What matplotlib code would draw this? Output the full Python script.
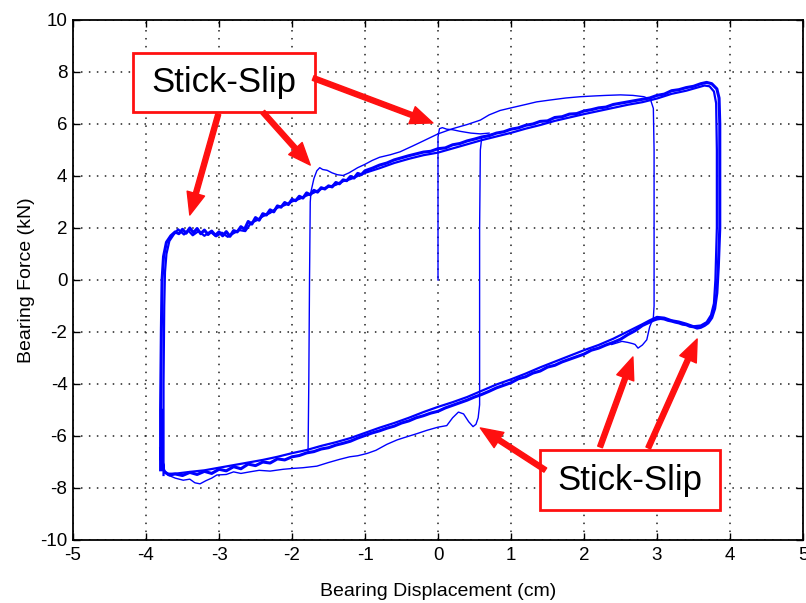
import matplotlib
matplotlib.use("Agg")
import matplotlib.pyplot as plt
import numpy as np
from matplotlib.patches import Rectangle

plt.rcParams['font.family'] = ['Liberation Sans', 'DejaVu Sans']
plt.rcParams['axes.unicode_minus'] = False

# main loop, cycle A  (displacement cm, force kN)
loop_a = [
    (-3.80, -7.30), (-3.80, -5.00), (-3.79, -2.00), (-3.78, 0.00), (-3.76, 0.90),
    (-3.72, 1.45), (-3.66, 1.70), (-3.60, 1.85), (-3.55, 1.78), (-3.50, 1.95),
    (-3.45, 1.80), (-3.40, 2.00), (-3.35, 1.82), (-3.30, 1.98), (-3.25, 1.78),
    (-3.20, 1.92), (-3.15, 1.75), (-3.10, 1.88), (-3.05, 1.72), (-3.00, 1.85),
    (-2.95, 1.70), (-2.90, 1.86), (-2.85, 1.68), (-2.80, 1.90), (-2.75, 1.85),
    (-2.70, 2.05), (-2.65, 1.95), (-2.60, 2.25), (-2.55, 2.15), (-2.50, 2.40),
    (-2.45, 2.30), (-2.40, 2.55), (-2.35, 2.50), (-2.30, 2.70), (-2.25, 2.62),
    (-2.20, 2.85), (-2.15, 2.80), (-2.10, 2.98), (-2.05, 2.90), (-2.00, 3.10),
    (-1.95, 3.05), (-1.90, 3.22), (-1.85, 3.15), (-1.80, 3.35), (-1.75, 3.28),
    (-1.70, 3.45), (-1.65, 3.38), (-1.60, 3.55), (-1.55, 3.50), (-1.50, 3.62),
    (-1.45, 3.58), (-1.40, 3.75), (-1.35, 3.70), (-1.30, 3.85), (-1.25, 3.82),
    (-1.20, 3.98), (-1.15, 3.92), (-1.10, 4.10), (-1.05, 4.05), (-1.00, 4.20),
    (-0.90, 4.30), (-0.80, 4.42), (-0.70, 4.50), (-0.60, 4.62), (-0.50, 4.70),
    (-0.40, 4.78), (-0.30, 4.85), (-0.20, 4.92), (-0.10, 4.95), (0.00, 5.05),
    (0.10, 5.08), (0.20, 5.20), (0.30, 5.25), (0.40, 5.35), (0.50, 5.42),
    (0.60, 5.50), (0.70, 5.55), (0.80, 5.65), (0.90, 5.70), (1.00, 5.80),
    (1.10, 5.85), (1.20, 5.95), (1.30, 6.00), (1.40, 6.10), (1.50, 6.12),
    (1.60, 6.25), (1.70, 6.28), (1.80, 6.38), (1.90, 6.40), (2.00, 6.50),
    (2.10, 6.55), (2.20, 6.62), (2.30, 6.65), (2.40, 6.75), (2.50, 6.80),
    (2.60, 6.85), (2.70, 6.90), (2.80, 6.95), (2.90, 7.00), (3.00, 7.10),
    (3.10, 7.15), (3.20, 7.28), (3.30, 7.32), (3.40, 7.40), (3.50, 7.45),
    (3.60, 7.55), (3.68, 7.60), (3.75, 7.55), (3.82, 7.35), (3.85, 7.00),
    (3.86, 6.00), (3.86, 4.00), (3.86, 2.00), (3.84, 0.50), (3.82, -0.50),
    (3.79, -1.10), (3.75, -1.45), (3.70, -1.65), (3.65, -1.75), (3.60, -1.82),
    (3.55, -1.85), (3.50, -1.80), (3.45, -1.78), (3.40, -1.72), (3.35, -1.70),
    (3.30, -1.65), (3.25, -1.62), (3.20, -1.58), (3.15, -1.55), (3.10, -1.50),
    (3.05, -1.48), (3.00, -1.50), (2.95, -1.55), (2.90, -1.62), (2.80, -1.75),
    (2.70, -1.95), (2.60, -2.10), (2.50, -2.28), (2.40, -2.40), (2.30, -2.50),
    (2.20, -2.62), (2.10, -2.70), (2.00, -2.85), (1.90, -2.95), (1.80, -3.05),
    (1.70, -3.15), (1.60, -3.28), (1.50, -3.35), (1.40, -3.50), (1.30, -3.58),
    (1.20, -3.72), (1.10, -3.80), (1.00, -3.95), (0.90, -4.05), (0.80, -4.15),
    (0.70, -4.28), (0.60, -4.40), (0.50, -4.50), (0.40, -4.62), (0.30, -4.72),
    (0.20, -4.82), (0.10, -4.92), (0.00, -5.05), (-0.10, -5.12), (-0.20, -5.22),
    (-0.30, -5.30), (-0.40, -5.42), (-0.50, -5.50), (-0.60, -5.62), (-0.70, -5.70),
    (-0.80, -5.80), (-0.90, -5.88), (-1.00, -5.98), (-1.10, -6.08), (-1.20, -6.20),
    (-1.30, -6.28), (-1.40, -6.35), (-1.50, -6.45), (-1.60, -6.50), (-1.70, -6.60),
    (-1.80, -6.65), (-1.90, -6.75), (-2.00, -6.80), (-2.10, -6.92), (-2.20, -6.88),
    (-2.30, -7.04), (-2.40, -7.00), (-2.50, -7.14), (-2.60, -7.08), (-2.70, -7.26),
    (-2.80, -7.18), (-2.90, -7.34), (-3.00, -7.28), (-3.10, -7.44), (-3.20, -7.36),
    (-3.30, -7.48), (-3.40, -7.40), (-3.50, -7.52), (-3.60, -7.46), (-3.68, -7.50),
    (-3.74, -7.40), (-3.78, -7.20), (-3.80, -6.50),
]

# main loop, cycle B
loop_b = [
    (-3.76, -7.50), (-3.76, -4.00), (-3.75, -1.00), (-3.74, 0.30), (-3.72, 1.00),
    (-3.68, 1.50), (-3.62, 1.75), (-3.56, 1.95), (-3.48, 1.75), (-3.42, 1.90),
    (-3.36, 1.72), (-3.28, 1.88), (-3.20, 1.70), (-3.12, 1.86), (-3.04, 1.68),
    (-2.96, 1.82), (-2.88, 1.66), (-2.80, 1.80), (-2.72, 1.92), (-2.64, 1.88),
    (-2.56, 2.20), (-2.48, 2.30), (-2.40, 2.45), (-2.30, 2.58), (-2.20, 2.78),
    (-2.10, 2.88), (-2.00, 3.02), (-1.90, 3.12), (-1.80, 3.25), (-1.70, 3.36),
    (-1.60, 3.50), (-1.50, 3.58), (-1.40, 3.66), (-1.30, 3.80), (-1.20, 3.88),
    (-1.10, 4.00), (-1.00, 4.12), (-0.80, 4.30), (-0.60, 4.50), (-0.40, 4.66),
    (-0.20, 4.80), (0.00, 4.90), (0.20, 5.06), (0.40, 5.22), (0.60, 5.38),
    (0.80, 5.52), (1.00, 5.66), (1.20, 5.82), (1.40, 5.96), (1.60, 6.12),
    (1.80, 6.25), (2.00, 6.38), (2.20, 6.50), (2.40, 6.62), (2.60, 6.74),
    (2.80, 6.84), (3.00, 6.98), (3.20, 7.16), (3.40, 7.28), (3.55, 7.40),
    (3.65, 7.48), (3.72, 7.45), (3.78, 7.25), (3.81, 6.80), (3.82, 5.00),
    (3.82, 2.00), (3.80, 0.00), (3.78, -0.90), (3.74, -1.35), (3.68, -1.62),
    (3.60, -1.75), (3.50, -1.78), (3.40, -1.68), (3.30, -1.60), (3.20, -1.55),
    (3.10, -1.45), (3.00, -1.42), (2.90, -1.55), (2.80, -1.70), (2.60, -1.98),
    (2.40, -2.26), (2.20, -2.50), (2.00, -2.70), (1.80, -2.92), (1.60, -3.14),
    (1.40, -3.36), (1.20, -3.60), (1.00, -3.82), (0.80, -4.02), (0.60, -4.26),
    (0.40, -4.50), (0.20, -4.70), (0.00, -4.88), (-0.20, -5.08), (-0.40, -5.30),
    (-0.60, -5.50), (-0.80, -5.68), (-1.00, -5.88), (-1.20, -6.08), (-1.40, -6.24),
    (-1.60, -6.38), (-1.80, -6.54), (-2.00, -6.66), (-2.20, -6.80), (-2.40, -6.92),
    (-2.60, -7.02), (-2.80, -7.12), (-3.00, -7.22), (-3.20, -7.32), (-3.40, -7.38),
    (-3.60, -7.45), (-3.70, -7.45), (-3.75, -7.35), (-3.77, -7.00), (-3.78, -5.00),
]

# first loading from the origin (stick-slip at x = 0)
start_path = [
    (0.00, 0.00), (0.00, 0.30), (0.00, 3.00), (0.00, 5.50), (0.02, 5.82),
    (0.06, 5.86), (0.12, 5.80), (0.20, 5.78), (0.30, 5.72), (0.45, 5.65),
    (0.58, 5.62), (0.70, 5.65),
]

# reversal at -1.75 cm, stick-slip peak and upper thin branch, reversal at 2.95 cm
inner_path = [
    (-1.78, -6.60), (-1.77, -4.00), (-1.76, 0.00), (-1.75, 3.00), (-1.74, 3.40),
    (-1.70, 3.90), (-1.66, 4.20), (-1.62, 4.32), (-1.58, 4.25), (-1.52, 4.22),
    (-1.45, 4.12), (-1.38, 4.05), (-1.30, 4.02), (-1.22, 4.12), (-1.10, 4.32),
    (-1.00, 4.45), (-0.90, 4.60), (-0.80, 4.72), (-0.65, 4.82), (-0.52, 4.93),
    (-0.35, 5.15), (-0.20, 5.35), (0.00, 5.62), (0.20, 5.82), (0.40, 5.98),
    (0.58, 6.15), (0.70, 6.35), (0.85, 6.52), (1.00, 6.62), (1.20, 6.75),
    (1.35, 6.85), (1.53, 6.92), (1.75, 7.00), (1.95, 7.05), (2.15, 7.08),
    (2.30, 7.10), (2.50, 7.12), (2.67, 7.10), (2.82, 7.05), (2.91, 6.95),
    (2.95, 6.60), (2.96, 5.00), (2.96, 2.00), (2.96, -1.00), (2.95, -1.45),
    (2.90, -1.80), (2.86, -2.30), (2.80, -2.50), (2.74, -2.62), (2.70, -2.48),
    (2.67, -2.45), (2.60, -2.40), (2.52, -2.36), (2.45, -2.42), (2.38, -2.48),
]

# lower thin branch with stick-slip dip near 0.5 cm, reversal at 0.57 cm
lower_path = [
    (-3.70, -7.50), (-3.60, -7.62), (-3.49, -7.70), (-3.40, -7.66), (-3.33, -7.80),
    (-3.26, -7.84), (-3.18, -7.72), (-3.10, -7.62), (-3.03, -7.50), (-2.90, -7.48),
    (-2.80, -7.38), (-2.70, -7.44), (-2.58, -7.38), (-2.45, -7.32), (-2.30, -7.35),
    (-2.12, -7.28), (-2.00, -7.25), (-1.85, -7.22), (-1.66, -7.16), (-1.50, -7.02),
    (-1.35, -6.90), (-1.21, -6.80), (-1.10, -6.76), (-0.97, -6.67), (-0.85, -6.55),
    (-0.70, -6.32), (-0.56, -6.15), (-0.45, -6.05), (-0.30, -5.92), (-0.15, -5.78),
    (0.00, -5.66), (0.12, -5.60), (0.20, -5.30), (0.28, -5.08), (0.35, -5.15),
    (0.42, -5.45), (0.48, -5.64), (0.52, -5.55), (0.55, -5.30), (0.57, -4.80),
    (0.57, -2.00), (0.57, 2.00), (0.58, 5.00), (0.60, 5.50), (0.75, 5.62),
]

xticks = [-5, -4, -3, -2, -1, 0, 1, 2, 3, 4, 5]
yticks = [-10, -8, -6, -4, -2, 0, 2, 4, 6, 8, 10]

# annotation boxes (left, bottom, right, top) and arrows (start -> tip)
label_text = "Stick-Slip"
box_upper = (-4.18, 6.46, -1.69, 8.73)
box_lower = (1.40, -8.85, 3.86, -6.54)
arrows_upper = [((-3.01, 6.38), (-3.40, 2.50)),
                ((-2.40, 6.46), (-1.75, 4.42)),
                ((-1.71, 7.77), (-0.07, 6.04))]
arrows_lower = [((1.47, -7.31), (0.58, -5.69)),
                ((2.22, -6.42), (2.67, -2.96)),
                ((2.88, -6.46), (3.55, -2.27))]

fig = plt.figure(figsize=(8.06, 6.03), dpi=100)
ax = fig.add_axes([73 / 806, 63 / 603, 730 / 806, 520 / 603])

blue = '#0000ff'
for path, lw in [(loop_a, 2.2), (loop_b, 1.6), (start_path, 1.0),
                 (inner_path, 1.0), (lower_path, 1.0)]:
    p = np.array(path)
    ax.plot(p[:, 0], p[:, 1], color=blue, lw=lw, zorder=3)

ax.set_xlim(-5, 5)
ax.set_ylim(-10, 10)
ax.set_xticks(xticks)
ax.set_yticks(yticks)
ax.grid(True, color='#222222', linestyle=(0, (1.0, 4.2)), linewidth=1.1)
ax.tick_params(direction='in', top=True, right=True, length=5, width=1.0,
               labelsize=13.5, pad=5)
ax.tick_params(axis='y', pad=4)
for s in ax.spines.values():
    s.set_linewidth(1.3)
ax.set_xlabel("Bearing Displacement (cm)", fontsize=14, labelpad=14)
ax.set_ylabel("Bearing Force (kN)", fontsize=14, labelpad=4)

red = '#ff1010'
for box in (box_upper, box_lower):
    x0, y0, x1, y1 = box
    ax.add_patch(Rectangle((x0, y0), x1 - x0, y1 - y0, facecolor='white',
                           edgecolor=red, lw=2.0, zorder=5))
    ax.text((x0 + x1) / 2, (y0 + y1) / 2, label_text, fontsize=25,
            ha='center', va='center', zorder=6)

for (start, tip) in arrows_upper + arrows_lower:
    ax.annotate('', xy=tip, xytext=start, zorder=7,
                arrowprops=dict(arrowstyle='simple,head_length=0.8,head_width=0.65,tail_width=0.18',
                                color=red, mutation_scale=20, shrinkA=0, shrinkB=0))

fig.savefig('out.png', dpi=100)
